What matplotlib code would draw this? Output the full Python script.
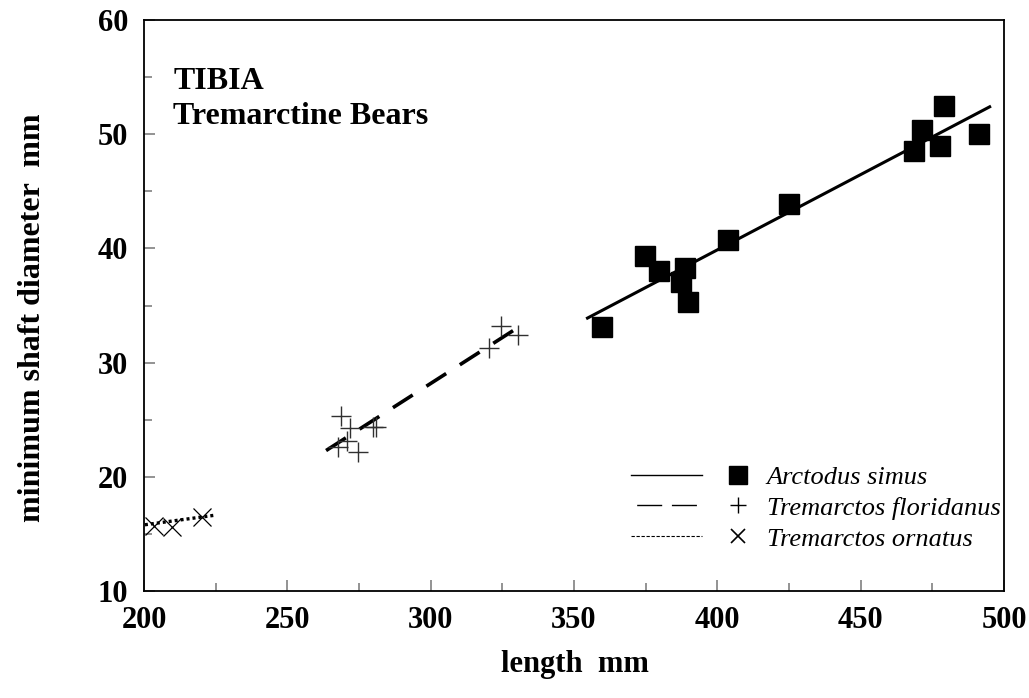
import matplotlib.pyplot as plt
from matplotlib.lines import Line2D
from matplotlib.legend_handler import HandlerTuple
from matplotlib.ticker import MultipleLocator

plt.rcParams['font.family'] = ['Liberation Serif', 'DejaVu Serif']

# Tibia measurements: length (mm) vs minimum shaft diameter (mm)
arctodus_len = [359.7, 374.9, 379.7, 388.8, 387.4, 389.6, 403.7, 424.9, 468.5, 471.4, 477.5, 479.2, 491.4]
arctodus_dia = [33.1, 39.3, 38.0, 38.3, 37.1, 35.3, 40.7, 43.9, 48.5, 50.4, 49.0, 52.5, 50.0]

floridanus_len = [268.8, 271.7, 267.8, 270.7, 274.7, 280.0, 281.0, 320.5, 324.6, 330.6]
floridanus_dia = [25.3, 24.3, 22.6, 23.1, 22.2, 24.4, 24.4, 31.3, 33.2, 32.4]

ornatus_len = [203.6, 209.9, 220.2]
ornatus_dia = [15.7, 15.6, 16.5]

# regression lines (end points)
arctodus_fit_x, arctodus_fit_y = [354.7, 495.0], [33.9, 52.4]
floridanus_fit_x, floridanus_fit_y = [263.5, 330.6], [22.3, 33.1]
ornatus_fit_x, ornatus_fit_y = [200.3, 225.1], [15.8, 16.65]

fig = plt.figure(figsize=(10.29, 6.98), dpi=100)
ax = fig.add_axes([0.140, 0.1533, 0.8357, 0.818])

ax.plot(arctodus_len, arctodus_dia, 's', color='black', markersize=14, zorder=3)
ax.plot(arctodus_fit_x, arctodus_fit_y, '-', color='black', lw=2.2)

ax.plot(floridanus_len, floridanus_dia, '+', color='#303030', markersize=15,
        markeredgewidth=1.0, zorder=3)
ax.plot(floridanus_fit_x, floridanus_fit_y, color='black', lw=2.6,
        dashes=(6.5, 4.5))

ax.plot(ornatus_len, ornatus_dia, 'x', color='black', markersize=13,
        markeredgewidth=0.9, zorder=3)
ax.plot(ornatus_fit_x, ornatus_fit_y, color='black', lw=2.4, dashes=(0.9, 0.9))

ax.set_xlim(200, 500)
ax.set_ylim(10, 60)
ax.xaxis.set_major_locator(MultipleLocator(50))
ax.xaxis.set_minor_locator(MultipleLocator(25))
ax.yaxis.set_major_locator(MultipleLocator(10))
ax.yaxis.set_minor_locator(MultipleLocator(5))
ax.tick_params(which='both', direction='in', color='#808080', width=1.2,
               top=False, right=False)
ax.tick_params(which='major', length=8, labelsize=22)
ax.tick_params(which='minor', length=6)
ax.tick_params(axis='y', pad=11.5)
ax.tick_params(axis='x', pad=11)
for lab in ax.get_xticklabels() + ax.get_yticklabels():
    lab.set_fontweight('bold')
for sp in ax.spines.values():
    sp.set_linewidth(1.3)

ax.set_xlabel('length  mm', fontsize=22, fontweight='bold')
ax.set_ylabel('minimum shaft diameter  mm', fontsize=23, fontweight='bold')
ax.xaxis.set_label_coords(0.501, -0.103)
ax.yaxis.set_label_coords(-0.113, 0.478)

ax.text(0.034, 0.918, 'TIBIA\nTremarctine Bears', transform=ax.transAxes,
        fontsize=23, fontweight='bold', va='top', ha='left', linespacing=1.3)

# legend: line sample + marker side by side
h_arct = (Line2D([], [], color='black', lw=1.0),
          Line2D([], [], ls='none', marker='s', color='black', markersize=13))
h_flor = (Line2D([], [], color='black', lw=1.0, ls=(20.9, (18, 7))),
          Line2D([], [], ls='none', marker='+', color='black', markersize=11,
                 markeredgewidth=1.0))
h_orn = (Line2D([], [], color='black', lw=0.8, dashes=(3, 1.5)),
         Line2D([], [], ls='none', marker='x', color='black', markersize=10,
                markeredgewidth=1.2))
ax.legend([h_arct, h_flor, h_orn],
          ['Arctodus simus', 'Tremarctos floridanus', 'Tremarctos ornatus'],
          handler_map={tuple: HandlerTuple(ndivide=None, pad=0.0)},
          prop={'style': 'italic', 'size': 19}, frameon=False,
          loc='upper left', bbox_to_anchor=(0.566, 0.22), borderaxespad=0,
          borderpad=0, handlelength=5.4, handletextpad=-0.25, labelspacing=0.28)

fig.savefig('out.png', dpi=100)
